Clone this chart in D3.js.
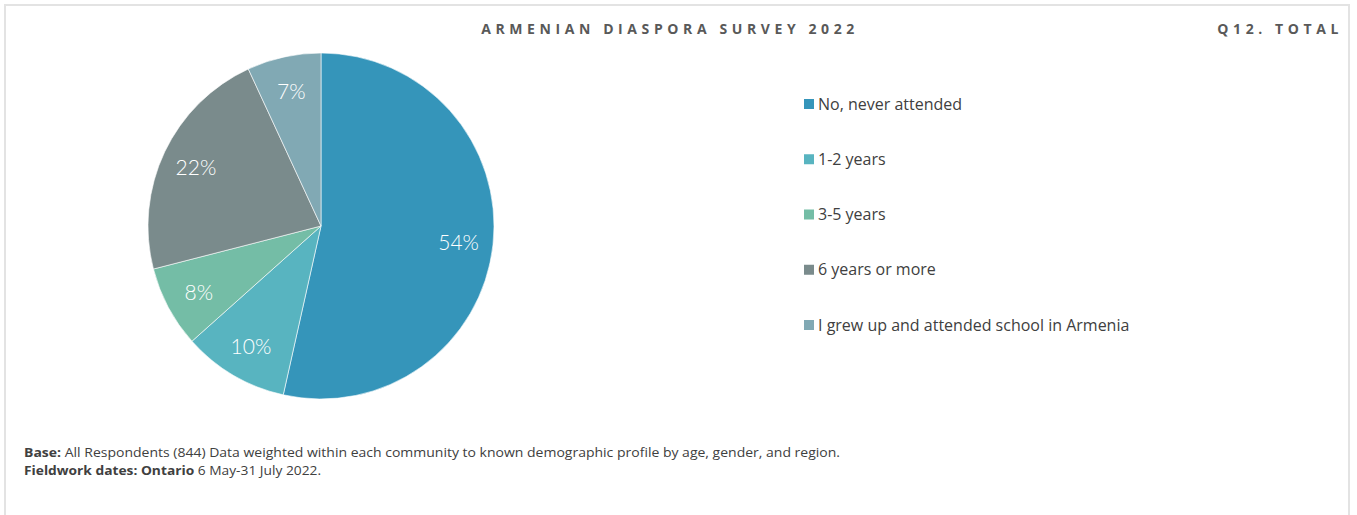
<!DOCTYPE html>
<html>
<head>
<meta charset="utf-8">
<style>
  body { margin: 0; background: #fff; }
  svg { display: block; }
  .title { font-family: "Open Sans", sans-serif; font-weight: 700; font-size: 14px; fill: #595959; letter-spacing: 4.6px; }
  .legend text { font-family: "Open Sans", sans-serif; font-size: 16px; fill: #404040; }
  .slice-label { font-family: "Lato", sans-serif; font-weight: 300; font-size: 21px; fill: #fff; }
  .foot { font-family: "Open Sans", sans-serif; font-size: 13px; fill: #404040; }
</style>
<script src="https://d3js.org/d3.v7.min.js"></script>
</head>
<body>
<script>
// data
var categories = ["No, never attended", "1-2 years", "3-5 years", "6 years or more", "I grew up and attended school in Armenia"];
var shares = [53.5, 9.9, 7.6, 22.1, 6.9];
var colours = ["#3595ba", "#58b4c0", "#74bda6", "#7a8b8c", "#81a9b4"];

var W = 1357, H = 515;
var svg = d3.select("body").append("svg").attr("width", W).attr("height", H);

// frame
svg.append("path")
  .attr("d", "M5,515 V5 H1349 V515")
  .attr("fill", "none")
  .attr("stroke", "#e3e3e3")
  .attr("stroke-width", 2);

svg.append("text").attr("class", "title")
  .attr("x", 670).attr("y", 34).attr("text-anchor", "middle")
  .text("ARMENIAN DIASPORA SURVEY 2022");
svg.append("text").attr("class", "title")
  .attr("x", 1343).attr("y", 34).attr("text-anchor", "end")
  .text("Q12. TOTAL");

// pie
var r = 173;
var g = svg.append("g").attr("transform", "translate(321,226)");
var pie = d3.pie().sort(null).value(function (d) { return d; });
var arcs = pie(shares);
var arc = d3.arc().innerRadius(0).outerRadius(r);
var labelArc = d3.arc().innerRadius(r * 0.8).outerRadius(r * 0.8);

g.selectAll("path.slice")
  .data(arcs)
  .enter()
  .append("path")
  .attr("class", "slice")
  .attr("d", arc)
  .attr("fill", function (d, i) { return colours[i]; })
  .attr("stroke", "#fff")
  .attr("stroke-width", 0.6);

g.selectAll("text.slice-label")
  .data(arcs)
  .enter()
  .append("text")
  .attr("class", "slice-label")
  .attr("transform", function (d) {
    var c = labelArc.centroid(d);
    return "translate(" + c[0] + "," + c[1] + ")";
  })
  .attr("text-anchor", "middle")
  .attr("dy", "0.4em")
  .text(function (d) { return Math.round(d.data) + "%"; });

// legend
var legendY = d3.scalePoint().domain(categories).range([104, 325]);
var leg = svg.append("g").attr("class", "legend")
  .selectAll("g")
  .data(categories)
  .enter()
  .append("g")
  .attr("transform", function (d) { return "translate(804," + legendY(d) + ")"; });
leg.append("rect")
  .attr("x", 0).attr("y", -5).attr("width", 10).attr("height", 10)
  .attr("fill", function (d, i) { return colours[i]; });
leg.append("text")
  .attr("x", 14).attr("dy", "0.35em")
  .text(function (d) { return d; });

// footnote
var f1 = svg.append("text").attr("class", "foot").attr("x", 24).attr("y", 457)
  .attr("textLength", 816).attr("lengthAdjust", "spacingAndGlyphs");
f1.append("tspan").attr("font-weight", 700).text("Base:");
f1.append("tspan").text(" All Respondents (844) Data weighted within each community to known demographic profile by age, gender, and region.");
var f2 = svg.append("text").attr("class", "foot").attr("x", 24).attr("y", 475)
  .attr("textLength", 297).attr("lengthAdjust", "spacingAndGlyphs");
f2.append("tspan").attr("font-weight", 700).text("Fieldwork dates: Ontario");
f2.append("tspan").text(" 6 May-31 July 2022.");
</script>
</body>
</html>
